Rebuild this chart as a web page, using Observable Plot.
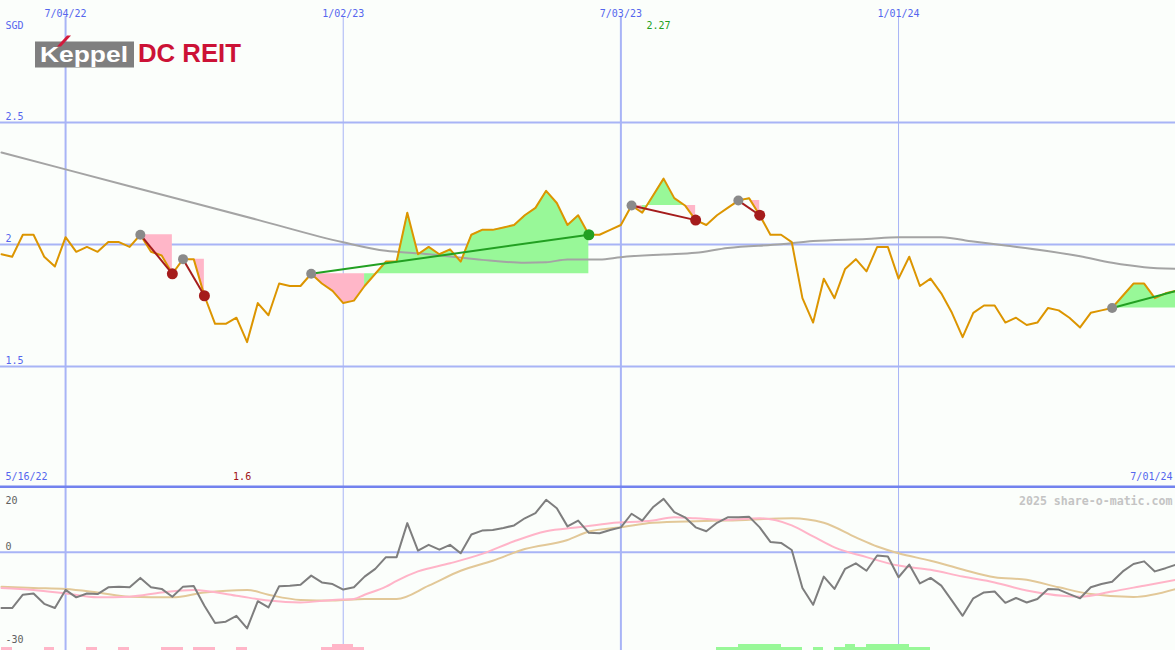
<!DOCTYPE html>
<html><head><meta charset="utf-8">
<script src="https://cdn.jsdelivr.net/npm/d3@7"></script>
<script src="https://cdn.jsdelivr.net/npm/@observablehq/plot@0.6"></script>
<style>
body{margin:0;background:#fbfefb;}
#wrap{position:relative;width:1175px;height:650px;overflow:hidden;background:#fbfefb;}
#wrap svg{display:block;}
#logo{position:absolute;left:0;top:0;}
</style></head><body>
<div id="wrap"><div id="topChart"></div><div id="bottomChart"></div>
<svg id="logo" width="260" height="80" xmlns="http://www.w3.org/2000/svg">
<rect x="35" y="41.5" width="99" height="26" fill="#7f7f7f"/>
<text x="40" y="62" font-family="Liberation Sans, Arial, sans-serif" font-weight="bold" font-size="22.5" fill="#ffffff" textLength="88" lengthAdjust="spacingAndGlyphs">Keppel</text>
<polygon points="57,46.5 61,46.5 71,35.5 67,35.5" fill="#d21a3c"/>
<text x="138" y="62" font-family="Liberation Sans, Arial, sans-serif" font-weight="bold" font-size="25.5" fill="#cc1236" textLength="103" lengthAdjust="spacingAndGlyphs">DC REIT</text>
</svg>
</div>
<script>
// ---- data ----
const startDate = "2022-05-23"; // weekly points, index 0
const price = [1.96,1.95,2.04,2.04,1.95,1.91,
2.03,1.97,1.99,1.97,2.01,2.01,1.99,2.04,1.97,1.955,
1.88,1.94,1.94,1.79,1.675,1.675,1.70,1.60,1.76,1.71,
1.84,1.83,1.83,1.88,1.84,1.81,1.76,1.77,1.83,1.88,
1.93,1.93,2.13,1.96,1.99,1.96,1.98,1.93,2.04,2.06,
2.06,2.07,2.08,2.12,2.15,2.22,2.17,2.08,2.12,2.04,
2.04,2.06,2.08,2.16,2.13,2.20,2.27,2.19,2.16,2.10,
2.08,2.12,2.15,2.18,2.19,2.12,2.04,2.04,2.01,1.78,
1.68,1.86,1.78,1.90,1.94,1.89,1.99,1.99,1.86,1.95,
1.83,1.86,1.80,1.72,1.62,1.72,1.75,1.75,1.68,1.70,
1.67,1.68,1.74,1.73,1.70,1.66,1.72,1.73,1.74,1.79,
1.84,1.84,1.78,1.80,1.81];
const maWeeks = [0,6,12,18,24,32,36,39,42,45,49,51,53,56,58,62,65,68,73,76,81,84,88,91,94,101,104,107,110];
const maValues = [2.377,2.308,2.239,2.170,2.101,2.009,1.974,1.964,1.951,1.937,1.925,1.927,1.939,1.939,1.948,1.959,1.966,1.986,2.001,2.014,2.023,2.030,2.030,2.012,1.996,1.952,1.925,1.907,1.900];
const oscillator = [-17.2,-17.2,-13.1,-12.7,-15.9,-17.2,
-11.6,-13.9,-12.7,-12.9,-10.8,-10.6,-10.8,-7.9,-10.8,-11.3,
-13.7,-10.6,-10.4,-16.5,-21.8,-21.4,-19.6,-23.5,-15.1,-17.0,
-10.5,-10.3,-10.0,-7.2,-9.3,-9.8,-11.5,-10.8,-7.5,-5.1,
-1.5,-1.5,9.0,0.5,2.3,0.8,2.3,-0.3,5.5,6.7,
6.9,7.5,8.3,10.5,12.1,16.2,13.6,8.0,9.8,6.0,
5.9,6.9,7.7,11.9,9.8,13.9,16.5,12.4,10.8,7.7,
6.5,9.1,10.8,10.8,11.0,7.7,3.2,2.9,0.7,-11.0,
-16.2,-7.5,-11.3,-5.1,-3.4,-5.7,-1.0,-1.3,-7.7,-3.8,
-9.6,-7.9,-10.3,-14.9,-19.6,-14.2,-12.4,-12.1,-15.6,-14.1,
-15.5,-14.4,-11.3,-11.5,-12.9,-14.2,-10.8,-9.8,-9.1,-5.9,
-3.6,-2.8,-5.9,-4.9,-3.8];
const pinkWeeks = [0,3,6,9,12,15,18,22,25,28,31,33,34,36,37,39,42,45,48,51,54,57,61,63,65,68,71,74,76,78,81,84,87,90,93,96,101,104,107,110];
const pinkValues = [-11.0,-11.6,-12.7,-13.9,-13.7,-12.4,-11.6,-13.4,-14.9,-15.5,-14.7,-14.4,-13.1,-10.6,-8.8,-5.9,-3.4,-0.5,3.4,6.5,7.7,9.0,9.8,10.8,10.5,10.0,10.5,8.3,4.9,1.5,-1.5,-4.1,-5.4,-7.5,-9.3,-11.8,-13.7,-12.1,-10.3,-8.5];
const tanWeeks = [0,3,6,9,12,16,19,23,25,28,31,34,37,40,43,46,49,53,55,58,61,65,68,74,77,80,82,84,87,90,93,96,99,102,106,110];
const tanValues = [-10.6,-11.0,-11.3,-12.4,-13.7,-13.9,-12.4,-11.6,-13.1,-14.7,-14.9,-14.4,-14.4,-10.3,-5.7,-2.6,1.0,3.8,6.4,7.7,9.1,9.6,9.8,10.5,9.1,4.6,1.8,-0.3,-2.6,-5.3,-7.7,-8.5,-10.8,-12.9,-13.8,-11.3];
const barWeeks = [0,4,8,11,15,16,18,19,22,30,31,32,33,67,68,69,70,71,72,73,74,76,78,79,80,81,82,83,84,85,86];
const barValues = [-1,-1,-1,-1,-1,-1,-1,-1,-1,-1,-2,-2,-1,1,1,2,2,2,2,1,1,1,1,2,1,2,2,2,2,1,1];
const patternStart = [13,17,29,59,69,104];
const patternEnd = [16,19,55,65,71,110];
const patternEndDot = [true,true,true,true,true,false];
const gridDates = ["2022-07-04","2023-01-02","2023-07-03","2024-01-01"];
const gridLabels = ["7/04/22","1/02/23","7/03/23","1/01/24"];
const priceTicks = [1.5,2,2.5];
const currency = "SGD";
const rangeLabels = ["5/16/22","7/01/24"];
const oscLabels = ["20","0","-30"];
const credit = "2025 share-o-matic.com";

// ---- helpers ----
const t0 = new Date(startDate + "T00:00:00Z");
const wk = i => new Date(t0.getTime() + i * 7 * 864e5);
const mono = "DejaVu Sans Mono, monospace";
const blue = "#5566ee", grid = "#a8b4f6", sep = "#7282ee";
const orange = "#dc9500", green = "#22a022", red = "#a51c1c", pinkFill = "#ffb6c8", greenFill = "#98f898";
const xOpt = {type:"utc", domain:[wk(0), wk(110)], range:[1,1175.7], axis:null};
const idx = d3.range(price.length);
const wideGrid = [gridDates[0], gridDates[2]].map(d=>new Date(d));
const thinGrid = [gridDates[1], gridDates[3]].map(d=>new Date(d));

// fill between each pattern's starting price and the price line, merged into runs of one colour
const segRows = [];
patternStart.forEach((s,p) => {
  const e = patternEnd[p], base = price[s];
  let run = -1, prevUp = null;
  for (let i = s; i < e; i++) {
    const up = price[i+1] >= base;
    if (up !== prevUp) {
      run++; prevUp = up;
      segRows.push({id: p*1000+run, up, date: wk(i), lo: base, hi: price[i]});
    }
    segRows.push({id: p*1000+run, up, date: wk(i+1), lo: base, hi: price[i+1]});
  }
});
const pats = d3.range(patternStart.length);
const iMax = d3.maxIndex(price), iMin = d3.minIndex(price);

const chartTop = Plot.plot({
  width:1175, height:488, margin:0,
  x:xOpt, y:{domain:[1,3], range:[488,0], axis:null},
  color:{type:"identity"},
  style:{background:"transparent"},
  marks:[
    Plot.ruleY(priceTicks, {y:d=>d, stroke:grid, strokeWidth:2}),
    Plot.ruleX(wideGrid, {x:d=>d, stroke:grid, strokeWidth:2, insetTop:16}),
    Plot.ruleX(thinGrid, {x:d=>d, stroke:grid, strokeWidth:1, insetTop:16}),
    Plot.areaY(segRows, {x:"date", y1:"lo", y2:"hi", z:"id", fill:d=>d.up?greenFill:pinkFill, curve:"linear"}),
    Plot.line(maWeeks, {x:d=>wk(d), y:(d,i)=>maValues[i], stroke:"#a4a4a4", strokeWidth:2, curve:"monotone-x"}),
    Plot.line(idx, {x:i=>wk(i), y:i=>price[i], stroke:orange, strokeWidth:2}),
    Plot.link(pats, {x1:p=>wk(patternStart[p]), y1:p=>price[patternStart[p]], x2:p=>wk(patternEnd[p]), y2:p=>price[patternEnd[p]],
      stroke:p=>price[patternEnd[p]]>=price[patternStart[p]]?green:red, strokeWidth:2}),
    Plot.dot(pats, {x:p=>wk(patternStart[p]), y:p=>price[patternStart[p]], r:5, fill:"#8a8a8a"}),
    Plot.dot(pats.filter(p=>patternEndDot[p]), {x:p=>wk(patternEnd[p]), y:p=>price[patternEnd[p]], r:5.5,
      fill:p=>price[patternEnd[p]]>=price[patternStart[p]]?green:red}),
    Plot.text(gridLabels, {x:(d,i)=>new Date(gridDates[i]), text:d=>d, frameAnchor:"top", dy:9, fill:blue, fontSize:10, fontFamily:mono}),
    Plot.text(priceTicks, {y:d=>d, text:d=>String(d), frameAnchor:"left", dx:5, dy:-5.5, textAnchor:"start", fill:blue, fontSize:10, fontFamily:mono}),
    Plot.text([currency], {frameAnchor:"top-left", dx:5, dy:21.5, textAnchor:"start", fill:blue, fontSize:10, fontFamily:mono}),
    Plot.text([String(price[iMax])], {x:wk(iMax), frameAnchor:"top", dy:21.5, dx:-5, fill:green, fontSize:10, fontFamily:mono}),
    Plot.text([String(price[iMin])], {x:wk(iMin), frameAnchor:"bottom", dy:-9, dx:-5, fill:"#a01414", fontSize:10, fontFamily:mono}),
    Plot.text([rangeLabels[0]], {frameAnchor:"bottom-left", dx:5, dy:-9, textAnchor:"start", fill:blue, fontSize:10, fontFamily:mono}),
    Plot.text([rangeLabels[1]], {frameAnchor:"bottom-right", dx:-3, dy:-9, textAnchor:"end", fill:blue, fontSize:10, fontFamily:mono}),
    Plot.ruleY([1], {y:d=>d, dy:-1.5, stroke:sep, strokeWidth:3})
  ]
});

const chartBottom = Plot.plot({
  width:1175, height:162, margin:0,
  x:xOpt, y:{domain:[-30,20], range:[161,-1], axis:null},
  color:{type:"identity"},
  style:{background:"transparent"},
  marks:[
    Plot.ruleY([0], {y:d=>d, stroke:grid, strokeWidth:2}),
    Plot.ruleX(wideGrid, {x:d=>d, stroke:grid, strokeWidth:2}),
    Plot.ruleX(thinGrid, {x:d=>d, stroke:grid, strokeWidth:1}),
    Plot.rect(barWeeks, {x1:d=>wk(d), x2:d=>wk(d+1), y1:-30.45, y2:(d,i)=>-30.45+Math.abs(barValues[i])*0.95,
      fill:(d,i)=>barValues[i]>0?greenFill:pinkFill, inset:0, shapeRendering:"crispEdges"}),
    Plot.line(tanWeeks, {x:d=>wk(d), y:(d,i)=>tanValues[i], stroke:"#e2c898", strokeWidth:2, curve:"monotone-x"}),
    Plot.line(pinkWeeks, {x:d=>wk(d), y:(d,i)=>pinkValues[i], stroke:"#ffb4c8", strokeWidth:2, curve:"monotone-x"}),
    Plot.line(idx, {x:i=>wk(i), y:i=>oscillator[i], stroke:"#7e7e7e", strokeWidth:2}),
    Plot.text([oscLabels[0]], {frameAnchor:"top-left", dx:5, dy:8.5, textAnchor:"start", fill:"#606060", fontSize:10, fontFamily:mono}),
    Plot.text([oscLabels[1]], {y:0, frameAnchor:"left", dx:5, dy:-5.5, textAnchor:"start", fill:"#606060", fontSize:10, fontFamily:mono}),
    Plot.text([oscLabels[2]], {frameAnchor:"bottom-left", dx:5, dy:-8, textAnchor:"start", fill:"#606060", fontSize:10, fontFamily:mono}),
    Plot.text([credit], {frameAnchor:"top-right", dx:-3, dy:8.5, textAnchor:"end", fill:"#c4c4c4", fontWeight:"bold", fontSize:11.6, fontFamily:mono})
  ]
});

document.getElementById("topChart").appendChild(chartTop);
document.getElementById("bottomChart").appendChild(chartBottom);
</script>
</body></html>
